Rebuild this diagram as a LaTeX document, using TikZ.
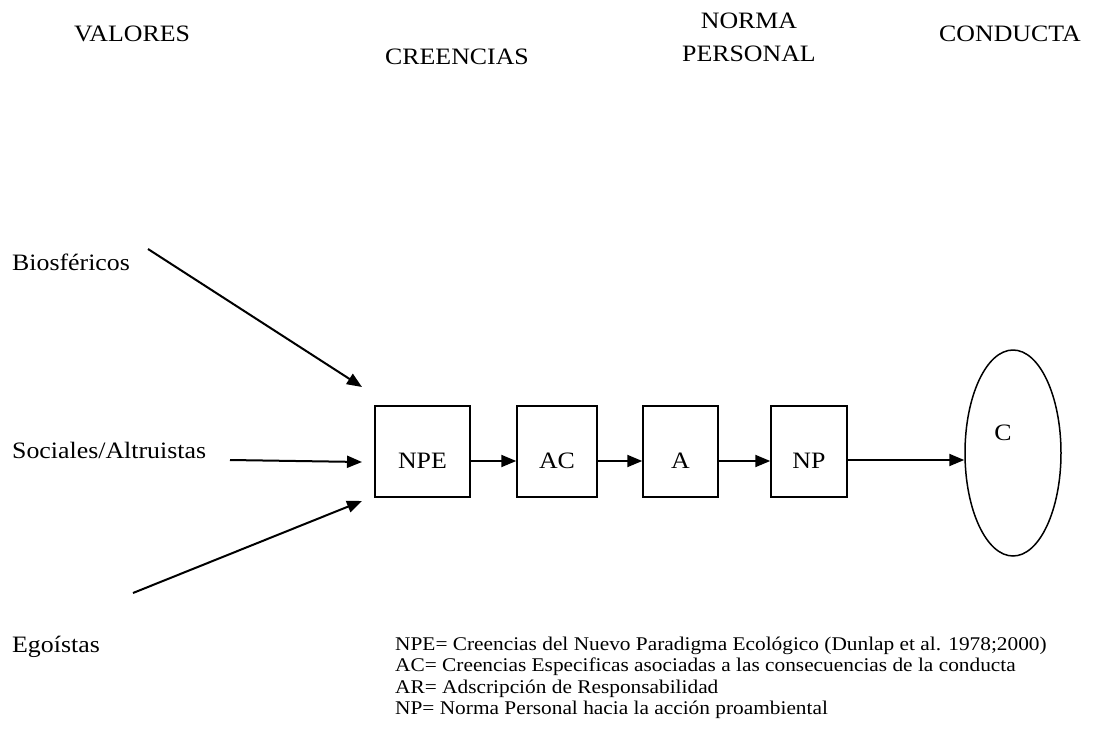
\documentclass[tikz,border=0pt]{standalone}
\usepackage{fontspec}
\setmainfont{Liberation Serif}[FakeStretch=1.1]
\usetikzlibrary{arrows.meta,shapes.geometric}

\tikzset{
  txt/.style={font=\fontsize{23.5}{26}\selectfont, inner sep=0pt, anchor=base},
  lbl/.style={txt, anchor=base west},
  legend/.style={font=\fontsize{19.4}{21.5}\selectfont, inner sep=0pt, anchor=base west},
  stage/.style={draw, line width=1.5pt, inner sep=0pt, anchor=base,
                text height=62pt, text depth=29pt,
                font=\fontsize{23.5}{26}\selectfont},
  outcome/.style={draw, ellipse, line width=1.5pt, inner sep=0pt,
                  minimum width=96pt, minimum height=206pt},
  arr/.style={line width=2pt, -{Triangle[length=15pt,width=12pt]}}
}

\begin{document}
\begin{tikzpicture}[x=1pt,y=-1pt]
  \useasboundingbox (0,0) rectangle (1101,731);

  % column headings
  \node[txt] (hval) at (132,41) {VALORES};
  \node[txt] (hcre) at (457,64) {CREENCIAS};
  \node[txt] (hnor1) at (749,28) {NORMA};
  \node[txt] (hnor2) at (749,61) {PERSONAL};
  \node[txt] (hcon) at (1010,41) {CONDUCTA};

  % value orientations
  \node[lbl] (bio) at (12,270) {Biosféricos};
  \node[lbl] (soc) at (12,458) {Sociales/Altruistas};
  \node[lbl] (ego) at (12,652) {Egoístas};

  % causal chain (baseline of the labels sits at y = 468)
  \node[stage, text width=95pt, align=center] (npe) at (422.5,468) {NPE};
  \node[stage, text width=80pt, align=center] (ac)  at (557,468)   {AC};
  \node[stage, text width=75pt, align=center] (a)   at (680.5,468) {A};
  \node[stage, text width=76pt, align=center] (np)  at (809,468)   {NP};
  \node[outcome] (c) at (1013,453) {};
  \node[txt] (ctext) at (1003,440) {C};

  % arrows from the value labels
  \coordinate (bioS) at (148,249);
  \coordinate (bioE) at (362,387);
  \coordinate (socS) at (230,460);
  \coordinate (socE) at (362,462);
  \coordinate (egoS) at (133,593);
  \coordinate (egoE) at (362,501);
  \draw[arr] (bioS) -- (bioE);
  \draw[arr] (socS) -- (socE);
  \draw[arr] (egoS) -- (egoE);

  % arrows along the chain
  \draw[arr] ([yshift=-9.5pt]npe.east) -- ([yshift=-9.5pt]ac.west);
  \draw[arr] ([yshift=-9.5pt]ac.east) -- ([yshift=-9.5pt]a.west);
  \draw[arr] ([yshift=-9.5pt]a.east) -- ([yshift=-9.5pt]np.west);
  \draw[arr] ([yshift=-8.5pt]np.east) -- ([yshift=-8.5pt]np.east -| c.west);

  % legend
  \node[legend] (l1) at (395,650)   {NPE= Creencias del Nuevo Paradigma Ecológico (Dunlap et al. 1978;2000)};
  \node[legend] (l2) at (395,671.5) {AC= Creencias Especificas asociadas a las consecuencias de la conducta};
  \node[legend] (l3) at (395,693)   {AR= Adscripción de Responsabilidad};
  \node[legend] (l4) at (395,714.5) {NP= Norma Personal hacia la acción proambiental};
\end{tikzpicture}
\end{document}
